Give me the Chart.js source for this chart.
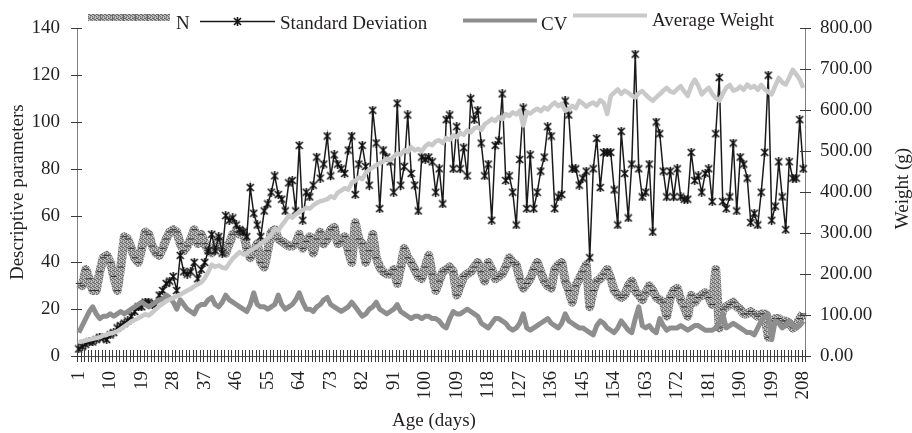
<!DOCTYPE html>
<html><head><meta charset="utf-8">
<script src="https://cdn.jsdelivr.net/npm/chart.js@4"></script>
<style>html,body{margin:0;padding:0;background:#fff;}canvas{display:block;}</style>
</head><body>
<canvas id="c" width="912" height="433"></canvas>
<script>
const days = Array.from({length: 208}, (_, i) => String(i + 1));

const nValues = [
31,30,37,33,28,28,36,42,43,40,
34,28,38,51,50,46,42,40,46,53,
52,47,44,43,46,50,53,54,53,48,
45,47,50,54,48,52,48,45,44,47,
50,46,44,48,52,53,52,53,46,42,
45,48,40,38,45,53,54,50,49,48,
47,47,48,52,46,49,51,44,50,53,
48,50,54,55,48,49,51,45,40,57,
50,48,40,45,52,42,38,36,35,35,
37,31,38,46,42,40,37,34,33,38,
43,35,28,32,36,37,38,36,26,30,
34,35,36,38,40,36,32,40,37,33,
34,35,38,42,40,39,33,29,31,33,
37,40,36,32,30,29,37,39,40,32,
28,23,30,33,36,39,21,28,32,33,
35,37,33,28,26,25,26,30,32,28,
26,24,27,30,28,25,24,23,17,25,
28,29,24,21,17,26,23,25,26,27,
25,22,37,12,20,21,22,23,21,20,
18,18,19,18,17,18,18,8,15,16,
16,15,15,14,12,13,16,18];

const sdValues = [
3,4,5,6,6,7,8,8,7,9,
10,12,13,14,15,17,19,21,21,23,
23,22,22,26,28,31,32,34,28,43,
36,35,36,40,33,37,40,45,52,45,
51,44,60,58,59,56,54,53,51,72,
61,56,51,62,65,70,77,69,67,62,
74,75,62,90,58,70,68,73,85,76,
82,94,77,86,82,80,78,88,94,69,
82,90,81,73,105,91,63,88,85,83,
70,108,73,81,103,78,73,62,85,84,
85,83,70,80,65,101,103,80,98,80,
89,77,110,101,105,91,77,82,58,90,
92,112,75,77,70,56,84,106,63,86,
63,70,79,85,98,94,63,68,69,109,
103,80,80,73,76,79,42,80,93,72,
87,87,87,71,56,96,78,59,82,129,
80,68,70,82,53,100,95,79,68,79,
68,80,68,67,67,87,75,77,70,78,
80,66,95,119,66,63,68,91,62,85,
82,76,57,61,56,70,87,120,58,64,
83,68,54,83,76,76,101,80];

const cvValues = [
10,13,16,19,21,18,16,17,17,18,
17,18,19,18,19,20,21,22,23,22,
21,22,23,24,24,26,25,23,20,24,
22,20,19,18,21,22,22,24,25,22,
21,23,26,24,23,22,21,20,19,22,
27,22,21,21,20,21,22,26,22,20,
21,22,24,27,23,20,20,19,21,22,
24,25,22,21,20,19,20,21,23,21,
19,17,18,20,21,23,20,19,18,19,
20,22,19,18,17,16,17,17,16,17,
17,16,16,15,13,12,16,19,18,18,
19,20,19,18,17,14,13,12,14,16,
16,15,14,12,11,12,14,18,12,11,
12,13,14,15,16,14,13,12,14,18,
15,14,13,12,12,11,10,9,13,15,
14,12,11,10,12,15,13,11,10,16,
21,13,12,13,11,10,16,13,11,12,
12,12,13,12,11,12,13,13,12,11,
11,11,12,14,18,12,13,14,13,12,
11,10,10,9,12,15,17,18,7,15,
14,12,13,15,13,12,13,15];

const weightValues = [
34,36,38,40,42,44,46,50,52,55,
57,60,66,72,78,84,88,92,97,102,
99,106,114,122,128,134,138,142,146,150,
155,160,164,170,175,180,190,205,223,218,
221,216,214,226,238,246,254,248,250,258,
262,268,274,280,288,296,310,306,319,330,
343,338,346,352,356,362,360,368,374,378,
380,383,390,386,399,404,410,406,423,428,
436,432,447,455,460,466,471,475,482,478,
487,495,492,503,498,510,502,506,500,512,
519,515,524,527,520,532,528,539,534,545,
540,551,546,556,559,552,566,572,579,574,
584,578,591,586,595,590,599,563,596,592,
599,604,598,607,602,612,619,610,616,599,
603,611,605,623,617,609,615,619,612,625,
618,591,635,643,651,640,648,643,636,631,
642,647,638,630,623,632,639,648,655,646,
643,652,659,646,635,660,675,660,639,648,
655,640,630,623,640,655,662,648,651,658,
650,663,655,659,650,662,651,645,639,660,
679,668,663,680,699,688,675,655];

const seriesNames = ['N', 'Standard Deviation', 'CV', 'Average Weight'];
const leftTitle = 'Descriptive parameters';
const rightTitle = 'Weight (g)';
const bottomTitle = 'Age (days)';

const TEXT = '#231f20';
const CV_COLOR = '#8e8e8e';
const AW_COLOR = '#c9c9c9';
const SD_COLOR = '#1a1a1a';
const FAMILY = '"Liberation Serif", "Times New Roman", serif';

function makePattern() {
  const c = document.createElement('canvas'); c.width = 4; c.height = 4;
  const g = c.getContext('2d');
  g.fillStyle = '#a2a2a2'; g.fillRect(0, 0, 4, 4);
  g.fillStyle = '#6e6e6e';
  [[0,0],[2,1],[1,2],[3,3],[2,3],[0,2]].forEach(p => g.fillRect(p[0], p[1], 1, 1));
  g.fillStyle = '#cacaca';
  [[1,0],[3,1],[0,3],[3,2]].forEach(p => g.fillRect(p[0], p[1], 1, 1));
  return document.createElement('canvas').getContext('2d').createPattern(c, 'repeat');
}
function makeStar() {
  const c = document.createElement('canvas'); c.width = 9; c.height = 9;
  const g = c.getContext('2d');
  g.strokeStyle = '#111'; g.lineWidth = 1.6;
  g.beginPath();
  g.moveTo(1, 1); g.lineTo(8, 8);
  g.moveTo(8, 1); g.lineTo(1, 8);
  g.moveTo(4.5, 0); g.lineTo(4.5, 9);
  g.stroke();
  return c;
}
const nPattern = makePattern();
const star = makeStar();

const overlay = {
  id: 'overlay',
  afterDraw(chart) {
    const {ctx, chartArea: a, scales} = chart;
    const x = scales.x, y = scales.y, y1 = scales.y1;
    ctx.save();
    ctx.strokeStyle = '#3a3a3a'; ctx.lineWidth = 1;
    ctx.beginPath();
    const step = x.getPixelForValue(1) - x.getPixelForValue(0);
    for (let i = 0; i <= days.length; i++) {
      const px = Math.round(x.getPixelForValue(i) - step / 2) + 0.5;
      ctx.moveTo(px, a.bottom - 6); ctx.lineTo(px, a.bottom + 6);
    }
    y.ticks.forEach(t => {
      const py = Math.round(y.getPixelForValue(t.value)) + 0.5;
      ctx.moveTo(a.left - 6, py); ctx.lineTo(a.left + 5, py);
    });
    y1.ticks.forEach(t => {
      const py = Math.round(y1.getPixelForValue(t.value)) + 0.5;
      ctx.moveTo(a.right - 5, py); ctx.lineTo(a.right + 6, py);
    });
    ctx.stroke();

    ctx.font = '19px ' + FAMILY;
    ctx.fillStyle = nPattern; ctx.fillRect(88, 14, 82, 7);
    ctx.strokeStyle = '#6a6a6a'; ctx.lineWidth = 1; ctx.beginPath();
    for (let xx = 100; xx < 170; xx += 11.7) { ctx.moveTo(Math.round(xx) + 0.5, 14); ctx.lineTo(Math.round(xx) + 0.5, 21); }
    ctx.stroke();
    ctx.fillStyle = TEXT; ctx.textBaseline = 'alphabetic'; ctx.textAlign = 'left';
    ctx.fillText(seriesNames[0], 176, 29);

    ctx.strokeStyle = SD_COLOR; ctx.lineWidth = 1.5; ctx.beginPath();
    ctx.moveTo(200, 21.5); ctx.lineTo(275, 21.5); ctx.stroke();
    ctx.drawImage(star, 237.5 - 4.5, 21.5 - 4.5);
    ctx.fillText(seriesNames[1], 280, 29);

    ctx.strokeStyle = CV_COLOR; ctx.lineWidth = 4; ctx.beginPath();
    ctx.moveTo(463, 20.5); ctx.lineTo(537, 20.5); ctx.stroke();
    ctx.fillText(seriesNames[2], 541, 29.5);

    ctx.strokeStyle = AW_COLOR; ctx.lineWidth = 4; ctx.beginPath();
    ctx.moveTo(573, 15.5); ctx.lineTo(647, 15.5); ctx.stroke();
    ctx.fillText(seriesNames[3], 652, 26);

    ctx.textAlign = 'center';
    ctx.fillText(bottomTitle, 434, 426);
    ctx.translate(903, 188.5); ctx.rotate(-Math.PI / 2);
    ctx.textBaseline = 'middle';
    ctx.fillText(rightTitle, 0, 0);
    ctx.restore();
  }
};

Chart.defaults.font.family = FAMILY;
Chart.defaults.font.size = 19;
Chart.defaults.color = TEXT;

new Chart(document.getElementById('c'), {
  type: 'line',
  data: {
    labels: days,
    datasets: [
      { label: seriesNames[0], data: nValues, yAxisID: 'y', order: 3,
        borderColor: nPattern, borderWidth: 9, borderJoinStyle: 'round',
        pointStyle: 'line', pointRadius: 3, pointBorderColor: '#333', pointBorderWidth: 1, pointBackgroundColor: '#333' },
      { label: seriesNames[1], data: sdValues, yAxisID: 'y', order: 2,
        borderColor: SD_COLOR, borderWidth: 1.5,
        pointStyle: star, pointRadius: 4 },
      { label: seriesNames[2], data: cvValues, yAxisID: 'y', order: 1,
        borderColor: CV_COLOR, borderWidth: 5, borderJoinStyle: 'round', pointRadius: 0 },
      { label: seriesNames[3], data: weightValues, yAxisID: 'y1', order: 0,
        borderColor: AW_COLOR, borderWidth: 4.5, borderJoinStyle: 'round', pointRadius: 0 }
    ]
  },
  options: {
    responsive: false,
    devicePixelRatio: 1,
    animation: false,
    layout: { padding: { top: 23, left: 0, right: 0, bottom: 0 } },
    plugins: { legend: { display: false }, tooltip: { enabled: false } },
    elements: { line: { tension: 0 } },
    scales: {
      x: {
        offset: true,
        grid: { display: false, drawTicks: false },
        border: { display: true, color: '#555', width: 1 },
        ticks: {
          autoSkip: false, minRotation: 90, maxRotation: 90, padding: 15,
          callback: (v, i) => (i % 9 === 0 ? days[i] : '')
        },
        afterFit: s => { s.height = 77; }
      },
      y: {
        position: 'left', min: 0, max: 140,
        grid: { display: false, drawTicks: false },
        border: { display: true, color: '#808080', width: 1 },
        ticks: { stepSize: 20, padding: 17 },
        title: { display: true, text: leftTitle, padding: { top: 7, bottom: 0 } },
        afterFit: s => { s.width = 77; }
      },
      y1: {
        position: 'right', min: 0, max: 800,
        grid: { display: false, drawTicks: false },
        border: { display: true, color: '#808080', width: 1 },
        ticks: { stepSize: 100, padding: 15, callback: v => Number(v).toFixed(2) },
        afterFit: s => { s.width = 107; }
      }
    }
  },
  plugins: [overlay]
});
</script>
</body></html>
